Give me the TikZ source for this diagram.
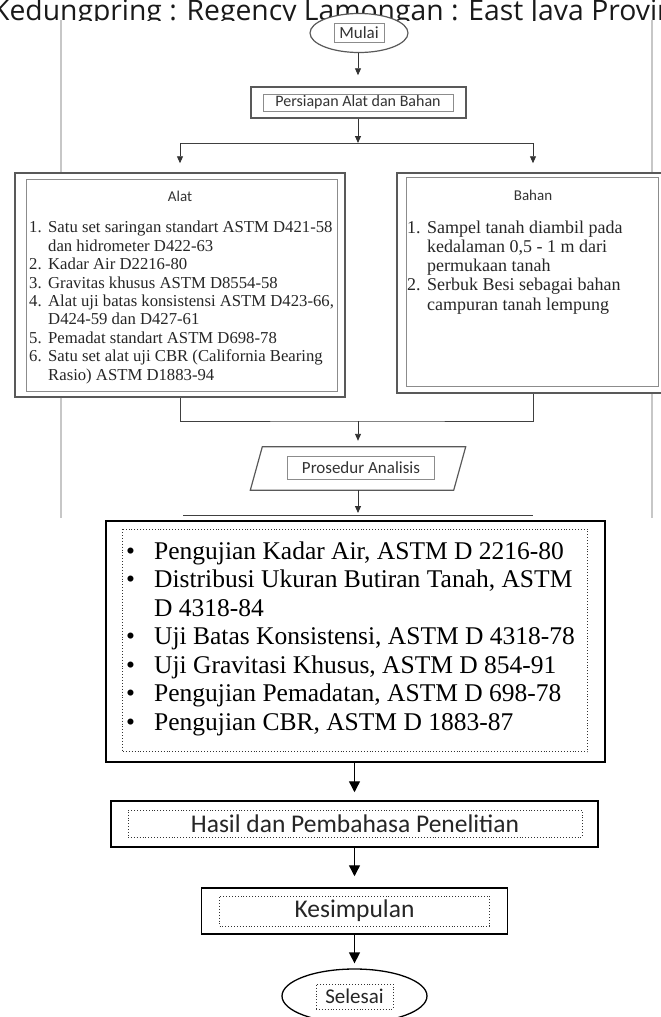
\documentclass[tikz,border=0pt]{standalone}
\usepackage{fontspec}
\setmainfont{Liberation Serif}
\newfontfamily\calib{Carlito}
\newfontfamily\opens{Open Sans}
\usetikzlibrary{arrows.meta,shapes.geometric}
\newcommand{\bigbul}{\makebox[28pt][l]{\textbullet}}
\tikzset{
  up/.style={draw=black!75, line width=0.9pt},
  upbox/.style={draw=black!65, line width=1.5pt, fill=white},
  upinner/.style={draw=black!45, line width=0.6pt},
  uparr/.style={draw=black!80, line width=0.9pt, -{Triangle[length=7pt,width=6pt]}},
  uptext/.style={inner sep=0pt, text=black!80, font=\calib\fontsize{16}{18}\selectfont},
  lowbox/.style={draw=black, line width=1.5pt, fill=white},
  lowinner/.style={draw=black!80, line width=0.9pt, dotted},
  lowarr/.style={draw=black, line width=1.3pt, -{Triangle[length=11pt,width=11pt]}},
  lowtext/.style={inner sep=0pt, text=black!85, font=\calib\fontsize{25.5}{30}\selectfont},
  framel/.style={draw=black!22, line width=1.4pt},
}
\begin{document}
\begin{tikzpicture}[x=1pt,y=-1pt]
\useasboundingbox (0,0) rectangle (661,1017);
\clip (0,0) rectangle (661,1017);
% header (clipped)
\begin{scope}
\clip (0,0) rectangle (661,20.5);
\node[anchor=base west, inner sep=0pt, text=black!90, font=\opens\fontsize{28.3}{32}\selectfont] (hdr) at (-8,20.8) {Kedungpring : Regency Lamongan : East Java Province};
\end{scope}
% page frame lines of the scan
\coordinate (fl1) at (61,20); \coordinate (fl2) at (61,518);
\coordinate (fr1) at (652,20); \coordinate (fr2) at (652,518);
\draw[framel] (fl1) -- (fl2);
\draw[framel] (fr1) -- (fr2);

% split points
\coordinate (split) at (358,143);
\coordinate (splitL) at (180,143);
\coordinate (splitR) at (533,143);

% Mulai
\node[ellipse, draw=black!65, line width=1.2pt, fill=white, minimum width=98pt, minimum height=39pt, inner sep=0pt] (mulai) at (359,33) {};
\node[upinner, minimum width=50pt, minimum height=19pt, uptext, font=\calib\fontsize{17}{19}\selectfont] (mulait) at (mulai) {Mulai};

% Persiapan
\node[upbox, minimum width=215pt, minimum height=31pt] (pers) at (358.5,102.5) {};
\node[upinner, minimum width=190pt, minimum height=17pt, uptext] (perst) at (358,102.5) {Persiapan Alat dan Bahan};

\draw[uparr] (mulai.south -| split) -- ([yshift=11pt]split |- pers.north);

% Alat box
\node[upbox, minimum width=330pt, minimum height=224pt] (alat) at (180,285) {};
\draw[upinner] ([shift={(12,7)}]alat.north west) rectangle ([shift={(-8,-6)}]alat.south east);
\node[uptext, font=\calib\fontsize{15}{18}\selectfont] (alatt) at (180,196) {Alat};
\node[anchor=base west, inner sep=0pt, align=left, text=black!85, font=\fontsize{16.7}{18.4}\selectfont] (alatlist) at (29,380) {%
\makebox[19pt][l]{1.}Satu set saringan standart ASTM D421-58\\
\hspace*{19pt}dan hidrometer D422-63\\
\makebox[19pt][l]{2.}Kadar Air D2216-80\\
\makebox[19pt][l]{3.}Gravitas khusus ASTM D8554-58\\
\makebox[19pt][l]{4.}Alat uji batas konsistensi ASTM D423-66,\\
\hspace*{19pt}D424-59 dan D427-61\\
\makebox[19pt][l]{5.}Pemadat standart ASTM D698-78\\
\makebox[19pt][l]{6.}Satu set alat uji CBR (California Bearing\\
\hspace*{19pt}Rasio) ASTM D1883-94};

% Bahan box
\node[upbox, minimum width=272pt, minimum height=220pt] (bahan) at (533,283) {};
\draw[upinner] ([shift={(10,5)}]bahan.north west) rectangle ([shift={(-11,-7)}]bahan.south east);
\node[uptext, font=\calib\fontsize{15}{18}\selectfont] (bahant) at (533,195) {Bahan};
\node[anchor=base west, inner sep=0pt, align=left, text=black!85, font=\fontsize{18}{19.2}\selectfont] (bahanlist) at (407,310) {%
\makebox[20pt][l]{1.}Sampel tanah diambil pada\\
\hspace*{20pt}kedalaman 0,5 - 1 m dari\\
\hspace*{20pt}permukaan tanah\\
\makebox[20pt][l]{2.}Serbuk Besi sebagai bahan\\
\hspace*{20pt}campuran tanah lempung};

\draw[uparr] (pers.south -| split) -- (split);
\draw[up] (splitL) -- (splitR);
\draw[uparr] (splitL) -- ([yshift=9pt]alat.north);
\draw[uparr] (splitR) -- ([yshift=9pt]bahan.north);

% merge
\coordinate (merge) at (358,421);
\draw[up] (alat.south) |- (merge) -| (bahan.south);

% Prosedur Analisis
\node[minimum width=203pt, minimum height=43pt, inner sep=0pt] (pros) at (358,468.5) {};
\draw[draw=black!65, line width=1.2pt] ([xshift=6pt]pros.north west) -- ([xshift=6pt]pros.north east) -- ([xshift=-6pt]pros.south east) -- ([xshift=-6pt]pros.south west) -- cycle;
\node[upinner, minimum width=147pt, minimum height=23pt, uptext, font=\calib\fontsize{17}{19}\selectfont] (prost) at (361,467.5) {Prosedur Analisis};
\draw[uparr] (merge) -- ([yshift=6pt]pros.north);

\coordinate (cut) at (358,513);
\coordinate (cutL) at (183,515);
\coordinate (cutR) at (533,515);
\draw[uparr] (pros.south) -- (cut);
\draw[up] (cutL) -- (cutR);

% ---------- lower part ----------
\fill[white] (0,518) rectangle (661,1017);

\node[lowbox, minimum width=499pt, minimum height=241pt] (big) at (355.5,641.5) {};
\draw[lowinner] ([shift={(17,9)}]big.north west) rectangle ([shift={(-18,-11)}]big.south east);
\node[anchor=base west, inner sep=0pt, align=left, text=black, font=\fontsize{25.5}{28.5}\selectfont] (biglist) at (126,730) {%
\bigbul Pengujian Kadar Air, ASTM D 2216-80\\
\bigbul Distribusi Ukuran Butiran Tanah, ASTM\\
\hspace*{28pt}D 4318-84\\
\bigbul Uji Batas Konsistensi, ASTM D 4318-78\\
\bigbul Uji Gravitasi Khusus, ASTM D 854-91\\
\bigbul Pengujian Pemadatan, ASTM D 698-78\\
\bigbul Pengujian CBR, ASTM D 1883-87};

\node[lowbox, minimum width=487pt, minimum height=46pt] (hasil) at (354.5,824) {};
\node[lowinner, minimum width=454pt, minimum height=27pt, lowtext] (hasilt) at (355,823.5) {Hasil dan Pembahasa Penelitian};

\node[lowbox, minimum width=306pt, minimum height=46pt] (kes) at (354.5,911) {};
\node[lowinner, minimum width=270pt, minimum height=30pt, lowtext] (kest) at (354.5,911) {Kesimpulan};

\node[ellipse, draw=black, line width=1.3pt, fill=white, minimum width=145pt, minimum height=54pt, inner sep=0pt] (sel) at (354.5,996) {};
\node[lowinner, minimum width=77pt, minimum height=25pt, lowtext, font=\calib\fontsize{21}{24}\selectfont] (selt) at (354.5,996.5) {Selesai};

\draw[lowarr] (hasil.north |- big.south) -- ([yshift=8pt]hasil.north);
\draw[lowarr] (hasil.south) -- ([yshift=11pt]kes.north);
\draw[lowarr] (kes.south) -- ([yshift=5pt]sel.north);
\end{tikzpicture}
\end{document}
